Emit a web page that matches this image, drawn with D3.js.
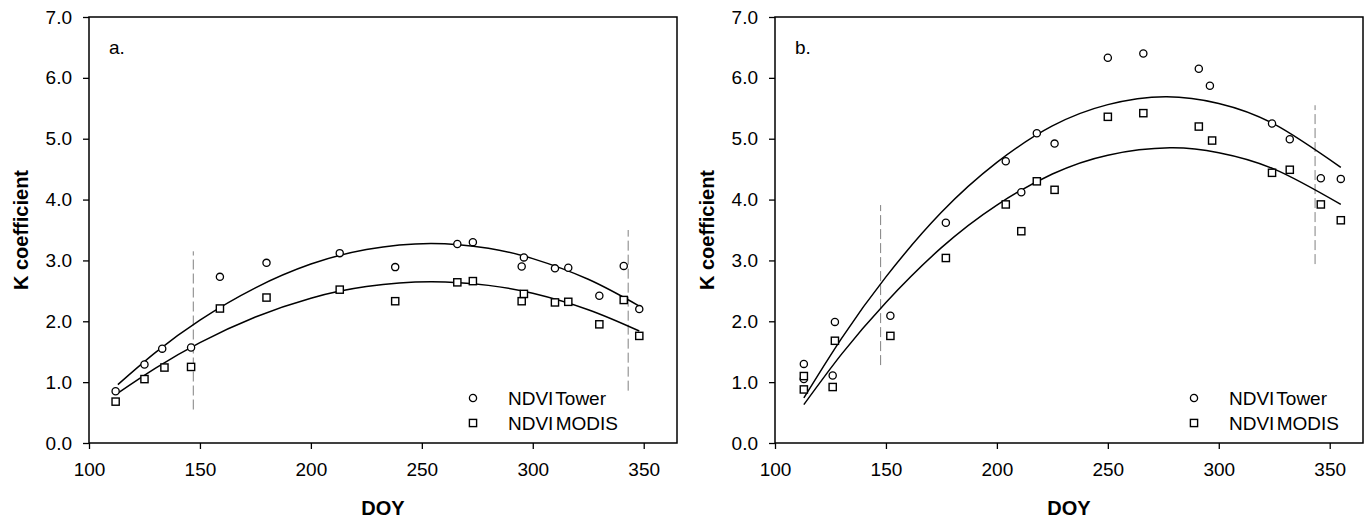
<!DOCTYPE html>
<html>
<head>
<meta charset="utf-8">
<script src="https://cdn.jsdelivr.net/npm/d3@7"></script>
<style>
  body { margin: 0; background: #fff; }
  svg text { font-family: "Liberation Sans", Arial, sans-serif; fill: #000; }
</style>
</head>
<body>
<div id="grafico"></div>
<script>
// values (DOY, K coefficient)
const xTicks = [100, 150, 200, 250, 300, 350];
const yTicks = [0, 1, 2, 3, 4, 5, 6, 7];
const seriesNames = ["NDVI Tower", "NDVI MODIS"];

const towerA = [
  {doy: 112, k: 0.85}, {doy: 125, k: 1.29}, {doy: 133, k: 1.55}, {doy: 146, k: 1.57},
  {doy: 159, k: 2.73}, {doy: 180, k: 2.96}, {doy: 213, k: 3.12}, {doy: 238, k: 2.89},
  {doy: 266, k: 3.27}, {doy: 273, k: 3.30}, {doy: 295, k: 2.90}, {doy: 296, k: 3.05},
  {doy: 310, k: 2.87}, {doy: 316, k: 2.88}, {doy: 330, k: 2.42}, {doy: 341, k: 2.91},
  {doy: 348, k: 2.20}
];
const modisA = [
  {doy: 112, k: 0.68}, {doy: 125, k: 1.05}, {doy: 134, k: 1.24}, {doy: 146, k: 1.25},
  {doy: 159, k: 2.21}, {doy: 180, k: 2.39}, {doy: 213, k: 2.52}, {doy: 238, k: 2.33},
  {doy: 266, k: 2.64}, {doy: 273, k: 2.66}, {doy: 295, k: 2.33}, {doy: 296, k: 2.45},
  {doy: 310, k: 2.31}, {doy: 316, k: 2.32}, {doy: 330, k: 1.95}, {doy: 341, k: 2.35},
  {doy: 348, k: 1.76}
];
const towerB = [
  {doy: 113, k: 1.30}, {doy: 113, k: 1.05}, {doy: 126, k: 1.11}, {doy: 127, k: 1.99},
  {doy: 152, k: 2.09}, {doy: 177, k: 3.62}, {doy: 204, k: 4.63}, {doy: 211, k: 4.12},
  {doy: 218, k: 5.09}, {doy: 226, k: 4.92}, {doy: 250, k: 6.33}, {doy: 266, k: 6.40},
  {doy: 291, k: 6.15}, {doy: 296, k: 5.87}, {doy: 324, k: 5.25}, {doy: 332, k: 4.99},
  {doy: 346, k: 4.35}, {doy: 355, k: 4.34}
];
const modisB = [
  {doy: 113, k: 1.10}, {doy: 113, k: 0.88}, {doy: 126, k: 0.92}, {doy: 127, k: 1.68},
  {doy: 152, k: 1.76}, {doy: 177, k: 3.04}, {doy: 204, k: 3.92}, {doy: 211, k: 3.48},
  {doy: 218, k: 4.30}, {doy: 226, k: 4.16}, {doy: 250, k: 5.36}, {doy: 266, k: 5.42},
  {doy: 291, k: 5.20}, {doy: 297, k: 4.97}, {doy: 324, k: 4.44}, {doy: 332, k: 4.49},
  {doy: 346, k: 3.92}, {doy: 355, k: 3.66}
];

// fitted curves
const fitTowerA = [
  {doy: 113, k: 0.96}, {doy: 130, k: 1.49}, {doy: 150, k: 2.02}, {doy: 175, k: 2.55},
  {doy: 200, k: 2.94}, {doy: 225, k: 3.18}, {doy: 254, k: 3.28}, {doy: 280, k: 3.20},
  {doy: 300, k: 3.03}, {doy: 325, k: 2.69}, {doy: 348, k: 2.25}
];
const fitModisA = [
  {doy: 113, k: 0.82}, {doy: 130, k: 1.23}, {doy: 150, k: 1.65}, {doy: 175, k: 2.07},
  {doy: 200, k: 2.38}, {doy: 225, k: 2.57}, {doy: 254, k: 2.65}, {doy: 280, k: 2.59},
  {doy: 300, k: 2.46}, {doy: 325, k: 2.19}, {doy: 348, k: 1.84}
];
const fitTowerB = [
  {doy: 113, k: 0.74}, {doy: 130, k: 1.72}, {doy: 150, k: 2.73}, {doy: 175, k: 3.79},
  {doy: 200, k: 4.61}, {doy: 225, k: 5.21}, {doy: 250, k: 5.56}, {doy: 276, k: 5.69},
  {doy: 300, k: 5.58}, {doy: 325, k: 5.24}, {doy: 355, k: 4.53}
];
const fitModisB = [
  {doy: 113, k: 0.63}, {doy: 130, k: 1.46}, {doy: 150, k: 2.31}, {doy: 175, k: 3.21},
  {doy: 200, k: 3.91}, {doy: 225, k: 4.42}, {doy: 250, k: 4.73}, {doy: 278, k: 4.85},
  {doy: 300, k: 4.77}, {doy: 325, k: 4.50}, {doy: 355, k: 3.92}
];

// dashed vertical markers: doy, from k0 to k1
const markersA = [{doy: 147, k0: 0.55, k1: 3.15}, {doy: 343, k0: 0.86, k1: 3.5}];
const markersB = [{doy: 147.6, k0: 1.28, k1: 3.91}, {doy: 343.4, k0: 2.94, k1: 5.55}];

const width = 1367;
const height = 520;
const panelW = 588;
const panelH = 426;
const panelTop = 17;

const svg = d3.select("#grafico")
              .append("svg")
              .attr("width", width)
              .attr("height", height);

const xScale = d3.scaleLinear().domain([100, 365]).range([0, panelW]);
const yScale = d3.scaleLinear().domain([0, 7]).range([panelH, 0]);

function drawPanel(left, label, tower, modis, fitT, fitM, markers, legendX) {
  const g = svg.append("g").attr("transform", `translate(${left}, ${panelTop})`);

  const xAxis = g.append("g")
                 .attr("transform", `translate(0, ${panelH})`)
                 .call(d3.axisBottom(xScale).tickValues(xTicks).tickSize(6).tickSizeOuter(0).tickPadding(14));
  const yAxis = g.append("g")
                 .call(d3.axisLeft(yScale).tickValues(yTicks).tickSize(6).tickSizeOuter(0)
                         .tickPadding(11).tickFormat(d3.format(".1f")));
  [xAxis, yAxis].forEach(a => {
    a.select(".domain").remove();
    a.selectAll("line").attr("stroke", "#000").attr("stroke-width", 1.3);
    a.selectAll("text").style("font-size", "19px").attr("fill", "#000");
  });

  g.append("rect")
   .attr("width", panelW)
   .attr("height", panelH)
   .attr("fill", "none")
   .attr("stroke", "#000")
   .attr("stroke-width", 1.5);

  g.append("text")
   .attr("x", 20)
   .attr("y", 37)
   .style("font-size", "19px")
   .text(label);

  g.selectAll(".marker")
   .data(markers)
   .join("line")
   .attr("x1", d => xScale(d.doy))
   .attr("x2", d => xScale(d.doy))
   .attr("y1", d => yScale(d.k0))
   .attr("y2", d => yScale(d.k1))
   .attr("stroke", "#808080")
   .attr("stroke-width", 1)
   .attr("stroke-dasharray", "10,4");

  const line = d3.line()
                 .x(d => xScale(d.doy))
                 .y(d => yScale(d.k))
                 .curve(d3.curveNatural);

  [fitT, fitM].forEach(f => {
    g.append("path")
     .attr("d", line(f))
     .attr("fill", "none")
     .attr("stroke", "#000")
     .attr("stroke-width", 1.5);
  });

  g.selectAll(".tower")
   .data(tower)
   .join("circle")
   .attr("cx", d => xScale(d.doy))
   .attr("cy", d => yScale(d.k))
   .attr("r", 3.6)
   .attr("fill", "#fff")
   .attr("stroke", "#000")
   .attr("stroke-width", 1.3);

  g.selectAll(".modis")
   .data(modis)
   .join("rect")
   .attr("x", d => xScale(d.doy) - 3.6)
   .attr("y", d => yScale(d.k) - 3.6)
   .attr("width", 7.2)
   .attr("height", 7.2)
   .attr("fill", "#fff")
   .attr("stroke", "#000")
   .attr("stroke-width", 1.4);

  // legend
  const leg = g.append("g").attr("transform", `translate(${legendX}, 0)`);
  seriesNames.forEach((name, i) => {
    const cy = 381 + i * 25;
    if (i === 0) {
      leg.append("circle").attr("cx", 0).attr("cy", cy).attr("r", 3.6)
         .attr("fill", "#fff").attr("stroke", "#000").attr("stroke-width", 1.3);
    } else {
      leg.append("rect").attr("x", -3.6).attr("y", cy - 3.6).attr("width", 7.2).attr("height", 7.2)
         .attr("fill", "#fff").attr("stroke", "#000").attr("stroke-width", 1.4);
    }
    leg.append("text")
       .attr("x", 35)
       .attr("y", cy + 7)
       .style("font-size", "19px")
       .style("word-spacing", "-3px")
       .text(name);
  });

  g.append("text")
   .attr("x", panelW / 2)
   .attr("y", 498)
   .attr("text-anchor", "middle")
   .style("font-size", "20px")
   .style("font-weight", "bold")
   .text("DOY");

  g.append("text")
   .attr("transform", `translate(-61, ${panelH / 2}) rotate(-90)`)
   .attr("text-anchor", "middle")
   .style("font-size", "20px")
   .style("font-weight", "bold")
   .text("K coefficient");
}

drawPanel(89, "a.", towerA, modisA, fitTowerA, fitModisA, markersA, 384);
drawPanel(775, "b.", towerB, modisB, fitTowerB, fitModisB, markersB, 419);
</script>
</body>
</html>
